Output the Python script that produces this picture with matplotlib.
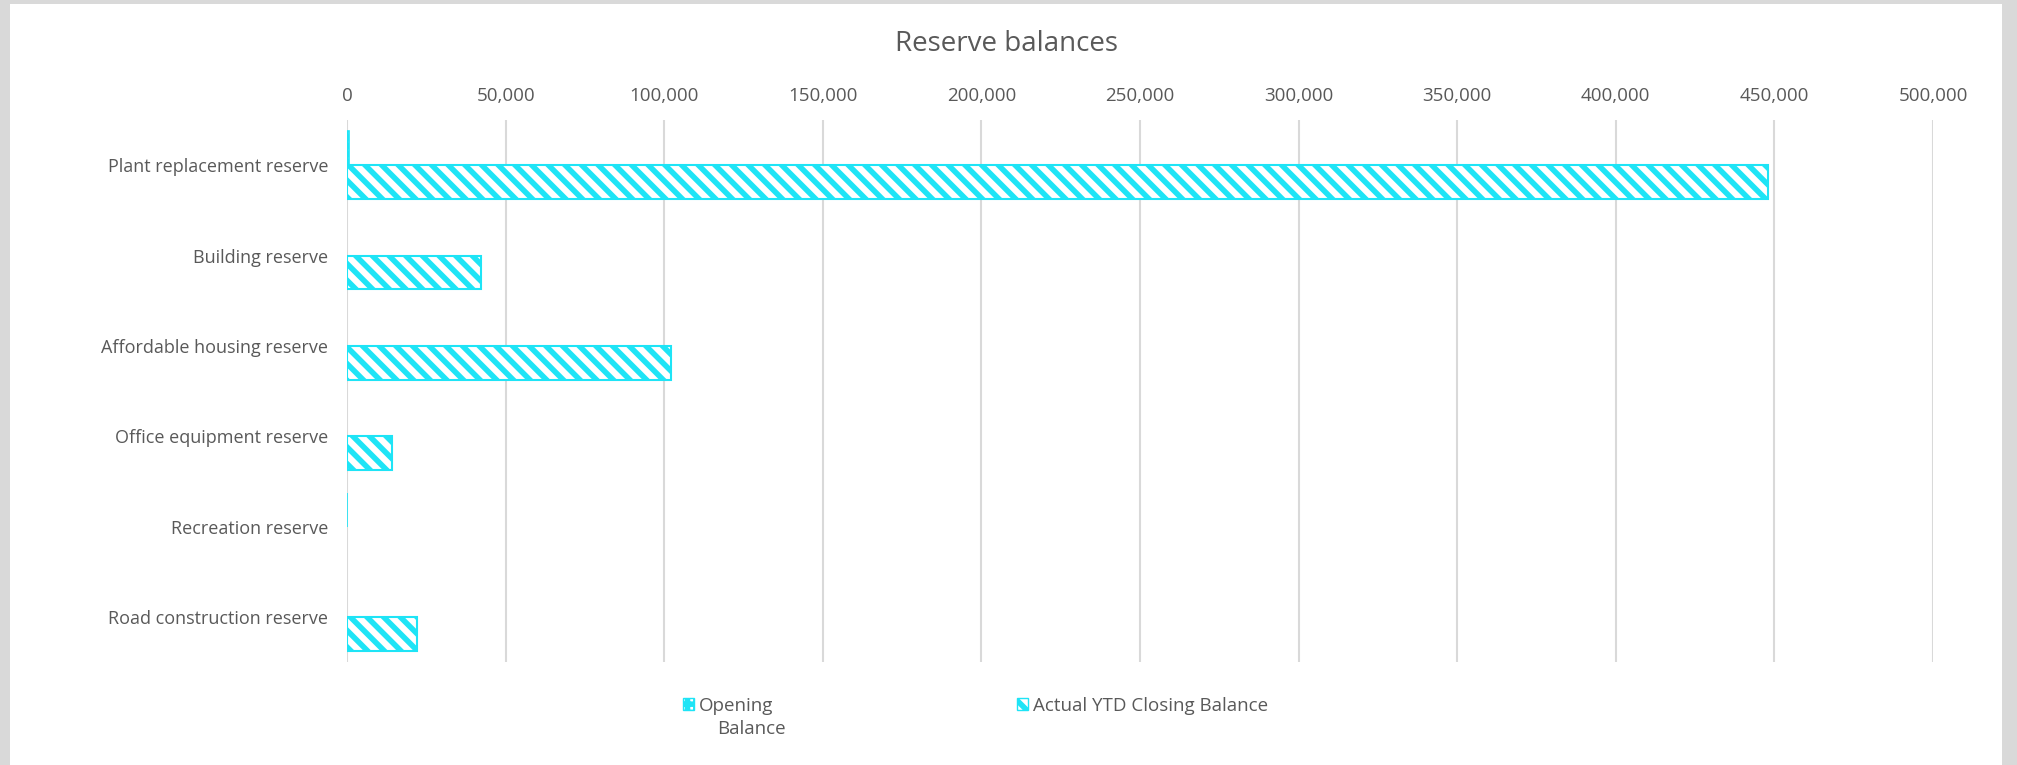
import matplotlib.pyplot as plt
import matplotlib.patches as mpatches
from matplotlib.ticker import FuncFormatter
import numpy as np

plt.rcParams['font.family'] = ['Open Sans', 'DejaVu Sans']
plt.rcParams['hatch.linewidth'] = 4.0

# data
categories = ['Plant replacement reserve', 'Building reserve', 'Affordable housing reserve',
              'Office equipment reserve', 'Recreation reserve', 'Road construction reserve']
opening = [600, 0, 0, 0, 150, 0]
closing = [448000, 42200, 102200, 14300, 0, 22000]

cyan = '#1ee4f6'
grey_txt = '#595959'

fig = plt.figure(figsize=(20.17, 7.65), dpi=100, facecolor='#d9d9d9')
# white chart panel on the grey background
fig.patches.append(mpatches.Rectangle((10 / 2017, 0), 1992 / 2017, 761 / 765,
                                      transform=fig.transFigure, facecolor='white',
                                      edgecolor='none', zorder=-5))

ax = fig.add_axes([347 / 2017, 1 - 662 / 765, 1586 / 2017, 542 / 765])
ax.set_facecolor('none')

y = np.arange(len(categories))
h = 0.375
ax.barh(y - h / 2, opening, height=h, color='white', edgecolor=cyan,
        linewidth=[1.2 if v > 0 else 0 for v in opening],
        hatch='++', label='Opening', zorder=3)
ax.barh(y + h / 2, closing, height=h, color='white', edgecolor=cyan,
        linewidth=[1.5 if v > 0 else 0 for v in closing],
        hatch='\\\\', label='Actual YTD Closing Balance', zorder=3)

ax.set_ylim(len(categories) - 0.5, -0.5)
ax.set_xlim(0, 500000)
ax.set_xticks(np.arange(0, 500001, 50000))
ax.xaxis.set_major_formatter(FuncFormatter(lambda v, p: f'{int(v):,}'))
ax.xaxis.tick_top()
ax.set_yticks(y)
ax.set_yticklabels(categories)
ax.tick_params(axis='both', length=0, colors=grey_txt)
ax.tick_params(axis='y', pad=13.5, labelsize=13)
ax.tick_params(axis='x', pad=11, labelsize=13.5)
ax.grid(axis='x', color='#d9d9d9', linewidth=1.5, zorder=0)
for s in ax.spines.values():
    s.set_visible(False)

fig.text(1006 / 2017, 1 - 44 / 765, 'Reserve balances', ha='center', va='center',
         fontsize=20, color=grey_txt)

leg = fig.legend(loc='upper left', bbox_to_anchor=(666 / 2017, 1 - 680 / 765), ncol=2,
                 frameon=False, fontsize=13.5, labelcolor=grey_txt, handlelength=0.6,
                 handleheight=0.6, handletextpad=0.25, columnspacing=13.0)
for p in leg.get_patches():
    p.set_linewidth(1.0)

# second line of the wrapped "Opening Balance" label, under the first
fig.canvas.draw()
t0 = leg.get_texts()[0]
bb = t0.get_window_extent()
fig.text(bb.x0 + 18, bb.y0 - 5, 'Balance', transform=None, ha='left', va='top',
         fontsize=13.5, color=grey_txt)

fig.savefig('out.png', dpi=100, facecolor=fig.get_facecolor())
